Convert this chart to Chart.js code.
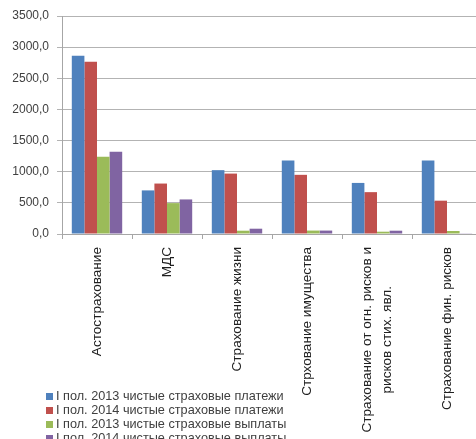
<!DOCTYPE html>
<html>
<head>
<meta charset="utf-8">
<script src="https://cdn.jsdelivr.net/npm/chart.js@4.4.1/dist/chart.umd.min.js"></script>
<style>
  html, body { margin: 0; padding: 0; background: #fff; overflow: hidden; }
  #wrap { position: relative; width: 482px; height: 439px; }
  #legend { position: absolute; left: 46px; top: 389px; font: 12.7px "Liberation Sans", Arial, sans-serif; color: #404040; }
  #legend div { height: 14px; line-height: 14px; white-space: nowrap; }
  #legend span { display: inline-block; width: 7px; height: 7px; margin-right: 3px; vertical-align: 0px; }
</style>
</head>
<body>
<div id="wrap">
  <canvas id="myChart" width="482" height="439"></canvas>
  <div id="legend"></div>
</div>
<script>
// categories
var categories = [
  'Астострахование',
  'МДС',
  'Страхование жизни',
  'Стрхование имущества',
  ['Страхование от огн. рисков и', 'рисков стих. явл.'],
  'Страхование фин. рисков'
];

// series values
var pay2013 = [2860, 700, 1025, 1180, 820, 1180];
var pay2014 = [2765, 810, 970, 950, 672, 535];
var out2013 = [1240, 496, 53, 55, 37, 48];
var out2014 = [1320, 555, 85, 55, 53, 5];

var seriesNames = [
  'I пол. 2013 чистые страховые платежи',
  'I пол. 2014 чистые страховые платежи',
  'I пол. 2013 чистые страховые выплаты',
  'I пол. 2014 чистые страховые выплаты'
];
var colors = ['#4F81BD', '#C0504D', '#9BBB59', '#8064A2'];

var yMin = 0, yMax = 3500, yStep = 500;

var font = '"Liberation Sans", Arial, sans-serif';

// rotated category labels, lines centered like in Excel
var catLabels = {
  id: 'catLabels',
  afterDraw: function (chart) {
    var ctx = chart.ctx;
    var xs = chart.scales.x;
    var top = chart.chartArea.bottom + 13;
    ctx.save();
    ctx.font = '13.6px ' + font;
    ctx.fillStyle = '#202020';
    ctx.textBaseline = 'middle';
    categories.forEach(function (c, i) {
      var lines = Array.isArray(c) ? c : [c];
      var maxW = 0;
      lines.forEach(function (l) { maxW = Math.max(maxW, ctx.measureText(l).width); });
      var x = xs.getPixelForValue(i);
      ctx.save();
      ctx.translate(x, top);
      ctx.rotate(-Math.PI / 2);
      ctx.textAlign = 'center';
      lines.forEach(function (l, j) {
        ctx.fillText(l, -maxW / 2, (j - (lines.length - 1) / 2) * 20);
      });
      ctx.restore();
    });
    ctx.restore();
  }
};

var ctx = document.getElementById('myChart');
var myChart = new Chart(ctx, {
  type: 'bar',
  data: {
    labels: categories,
    datasets: seriesNames.map(function (n, k) {
      return {
        label: n,
        data: [pay2013, pay2014, out2013, out2014][k],
        backgroundColor: colors[k],
        borderWidth: 0,
        categoryPercentage: 0.72,
        barPercentage: 1
      };
    })
  },
  options: {
    responsive: false,
    animation: false,
    layout: { padding: { top: 16, left: 0, right: 0, bottom: 0 } },
    plugins: {
      legend: { display: false },
      title: { display: false },
      tooltip: { enabled: false }
    },
    scales: {
      x: {
        grid: { drawOnChartArea: false, drawTicks: true, tickLength: 5, color: '#a6a6a6', offset: true },
        border: { color: '#a6a6a6' },
        ticks: { display: false },
        afterFit: function (s) { s.height = 205; }
      },
      y: {
        min: yMin,
        max: yMax,
        grid: { color: '#b3b3b3', tickLength: 5 },
        border: { color: '#a6a6a6' },
        ticks: {
          stepSize: yStep,
          padding: 8,
          color: '#404040',
          font: { family: font, size: 12 },
          callback: function (v) { return v.toFixed(1).replace('.', ','); }
        },
        afterFit: function (s) { s.width = 62; }
      }
    }
  },
  plugins: [catLabels]
});

// legend
var leg = document.getElementById('legend');
seriesNames.forEach(function (n, k) {
  leg.innerHTML += '<div><span style="background:' + colors[k] + '"></span>' + n + '</div>';
});
</script>
</body>
</html>
